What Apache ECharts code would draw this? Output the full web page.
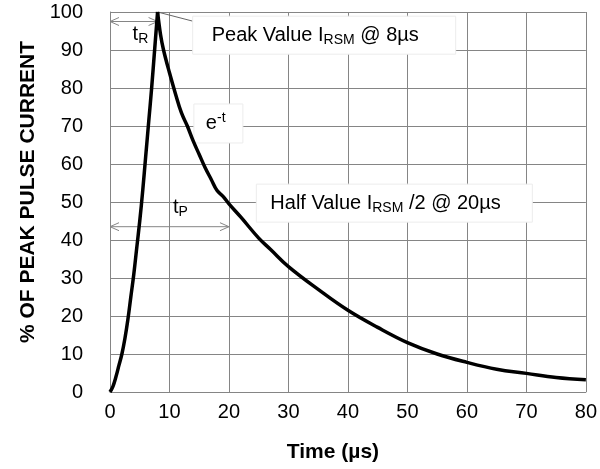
<!DOCTYPE html>
<html>
<head>
<meta charset="utf-8">
<script src="https://cdn.jsdelivr.net/npm/echarts@6/dist/echarts.min.js"></script>
<style>
  html, body { margin: 0; padding: 0; background: #fff; }
  #chart { width: 600px; height: 469px; }
</style>
</head>
<body>
<div id="chart"></div>
<script>
// pulse waveform: time (µs) -> % of peak current
const timeUs = [0, 0.5, 1, 1.5, 2, 2.5, 3, 3.5, 4, 4.5, 5, 5.5, 6, 6.5, 7, 7.5, 8,
  8.5, 9, 10, 11, 12, 13, 14, 15, 16, 17, 18, 19, 20, 22, 25, 27, 30, 35, 40, 45,
  50, 55, 60, 65, 70, 75, 80];
const pulsePct = [0, 1.5, 4, 7, 10, 14, 19, 25, 31, 38, 45, 53, 62, 71, 80, 90, 100,
  94, 90, 84, 78.5, 73.5, 70, 66, 62.5, 59, 56, 53, 51.5, 49.5, 46, 40.5, 37.5, 33, 27, 21.5, 17,
  13, 10, 7.8, 6, 4.9, 3.8, 3.2];
const peakIndex = 16; // the 8 µs point

const xTickLabels = ['0', '10', '20', '30', '40', '50', '60', '70', '80'];
const yTickLabels = ['0', '10', '20', '30', '40', '50', '60', '70', '80', '90', '100'];

const GRID_GRAY = '#858585';
const FONT = 'Liberation Sans, Arial, sans-serif';

const chart = echarts.init(document.getElementById('chart'), null, { renderer: 'canvas' });

const points = timeUs.map((t, i) => [t, pulsePct[i]]);
const curve = (data) => ({
  type: 'line',
  data: data,
  showSymbol: false,
  smooth: 0.4,
  lineStyle: { color: '#000', width: 3.5, join: 'round' },
  z: 20
});

chart.setOption({
  animation: false,
  backgroundColor: '#fff',
  grid: { left: 110, right: 13, top: 12, bottom: 77 },
  xAxis: {
    type: 'value',
    min: 0, max: 80, interval: 10,
    name: 'Time (µs)',
    nameLocation: 'middle',
    nameGap: 50,
    nameTextStyle: { fontFamily: FONT, fontSize: 21, fontWeight: 'bold', color: '#000', padding: [0, 30, 0, 0] },
    axisLine: { show: true, lineStyle: { color: GRID_GRAY, width: 1 } },
    axisTick: { show: true, length: 0, lineStyle: { color: GRID_GRAY } },
    axisLabel: {
      fontFamily: FONT, fontSize: 20, color: '#000', margin: 10,
      formatter: (v) => xTickLabels[Math.round(v / 10)]
    },
    splitLine: { show: true, lineStyle: { color: GRID_GRAY, width: 1, type: 'solid' } }
  },
  yAxis: {
    type: 'value',
    min: 0, max: 100, interval: 10,
    name: '% OF PEAK PULSE CURRENT',
    nameLocation: 'middle',
    nameGap: 57,
    nameTextStyle: { fontFamily: FONT, fontSize: 21, fontWeight: 'bold', color: '#000', padding: [0, 0, 0, 20] },
    axisLine: { show: true, lineStyle: { color: GRID_GRAY, width: 1 } },
    axisTick: { show: true, length: 0, lineStyle: { color: GRID_GRAY } },
    axisLabel: {
      fontFamily: FONT, fontSize: 20, color: '#000', margin: 27,
      formatter: (v) => yTickLabels[Math.round(v / 10)]
    },
    splitLine: { show: true, lineStyle: { color: GRID_GRAY, width: 1, type: 'solid' } }
  },
  series: [
    curve(points.slice(0, peakIndex + 1)),
    curve(points.slice(peakIndex))
  ]
});

// annotations placed in data coordinates, converted to pixels
const px = (pt) => chart.convertToPixel({ gridIndex: 0 }, pt);
const graphics = [];

function arrowLine(x0, x1, y) {
  const a = px([x0, y]), b = px([x1, y]);
  const s = { stroke: GRID_GRAY, lineWidth: 1, fill: null };
  graphics.push({ type: 'line', shape: { x1: a[0], y1: a[1], x2: b[0], y2: b[1] }, style: s, z: 5 });
  graphics.push({ type: 'polyline', shape: { points: [[a[0] + 9, a[1] - 4], [a[0], a[1]], [a[0] + 9, a[1] + 4]] }, style: s, z: 5 });
  graphics.push({ type: 'polyline', shape: { points: [[b[0] - 9, b[1] - 4], [b[0], b[1]], [b[0] - 9, b[1] + 4]] }, style: s, z: 5 });
}

function label(text, at, w, h, withBox, padLeft) {
  const p = px(at);
  if (withBox) {
    graphics.push({
      type: 'rect', shape: { x: p[0], y: p[1], width: w, height: h },
      style: { fill: '#fff', stroke: '#ececec', lineWidth: 1 }, z: 6
    });
  }
  graphics.push({
    type: 'text', x: p[0] + padLeft, y: p[1] + h / 2, z: 7,
    style: {
      text: text, fill: '#000', fontFamily: FONT, fontSize: 20,
      verticalAlign: 'middle', align: 'left',
      rich: {
        n: { fontFamily: FONT, fontSize: 20, lineHeight: 24, fill: '#000' },
        sub: { fontFamily: FONT, fontSize: 14, lineHeight: 14, verticalAlign: 'bottom', fill: '#000' },
        sup: { fontFamily: FONT, fontSize: 14, lineHeight: 14, verticalAlign: 'top', fill: '#000' }
      }
    }
  });
}

// leader from the peak to the peak-value box
const pk = px([8, 100]), pe = px([16.1, 96.7]);
graphics.push({ type: 'line', shape: { x1: pk[0], y1: pk[1], x2: pe[0], y2: pe[1] }, style: { stroke: '#666', lineWidth: 1 }, z: 5 });

arrowLine(0, 8, 97.5);
arrowLine(0, 20, 43.5);
label('{n|t}{sub|R}', [3.8, 97], 30, 22, false, 0);
label('{n|t}{sub|P}', [10.6, 51.5], 30, 22, false, 0);
label('{n|Peak Value I}{sub|RSM}{n| @ 8µs}', [13.9, 98.9], 263, 38, true, 19);
label('{n|e}{sup|-t}', [14.1, 75.8], 49, 39, true, 12);
label('{n|Half Value I}{sub|RSM}{n| /2 @ 20µs}', [24.6, 54.7], 276, 38, true, 14);

chart.setOption({ graphic: graphics });
</script>
</body>
</html>
